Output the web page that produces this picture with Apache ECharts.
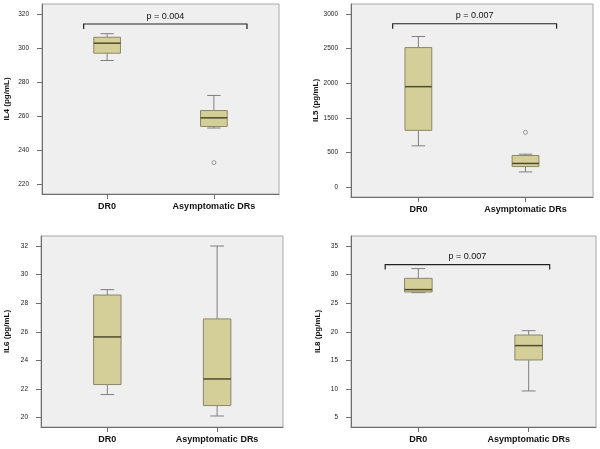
<!DOCTYPE html>
<html>
<head>
<meta charset="utf-8">
<script src="https://cdn.jsdelivr.net/npm/echarts@6/dist/echarts.min.js"></script>
<style>html,body{margin:0;padding:0;background:#fff}#c{width:600px;height:449px}</style>
</head>
<body>
<div id="c"></div>
<script>
// ---- data ----
const categories = ['DR0', 'Asymptomatic DRs'];

// [min, Q1, median, Q3, max] per category
const il4DR0 = [293, 297.3, 303.2, 306.7, 308.8];
const il4Asym = [253.2, 254.1, 259.2, 263.5, 272.4];
const il4Outliers = [[1, 232.8]];
const il4Ticks = [220, 240, 260, 280, 300, 320];
const il4Bracket = [-0.22, 1.31, 314.5];
const il4P = 'p = 0.004';

const il5DR0 = [714, 982, 1740, 2418, 2610];
const il5Asym = [261, 354, 408, 546, 569];
const il5Outliers = [[1, 948]];
const il5TickPos = [0, 600, 1200, 1800, 2400, 3000];
const il5TickLabels = ['0', '500', '1500', '2000', '2500', '3000'];
const il5Bracket = [-0.24, 1.29, 2831];
const il5P = 'p = 0.007';

const il6DR0 = [21.61, 22.31, 25.64, 28.57, 28.95];
const il6Asym = [20.11, 20.84, 22.70, 26.9, 32.0];
const il6Ticks = [20, 22, 24, 26, 28, 30, 32];

const il8DR0 = [26.85, 26.96, 27.38, 29.35, 31.05];
const il8Asym = [9.66, 15.08, 17.59, 19.44, 20.2];
const il8Ticks = [5, 10, 15, 20, 25, 30, 35];
const il8Bracket = [-0.30, 1.19, 31.75];
const il8P = 'p = 0.007';

const yNames = ['IL4 (pg/mL)', 'IL5 (pg/mL)', 'IL6 (pg/mL)', 'IL8 (pg/mL)'];

// ---- layout / style ----
const FONT = '"Liberation Sans", Arial, sans-serif';
const grids = [
  {left: 42, top: 4, width: 237, height: 190},
  {left: 351, top: 4, width: 242, height: 193},
  {left: 41, top: 236, width: 242, height: 191},
  {left: 351, top: 236, width: 245, height: 191}
];
const yExt = [[214.3, 326.3], [-174, 3174], [19.34, 32.7], [3.36, 36.75]];
const xExt = [[-0.61, 1.61], [-0.629, 1.63], [-0.604, 1.60], [-0.61, 1.61]];
const nameGaps = [31, 31, 30, 29];
const yTickVals = [il4Ticks, il5TickPos, il6Ticks, il8Ticks];

function boxRender(params, api) {
  const x = api.value(0);
  const vmin = api.value(1), q1 = api.value(2), med = api.value(3), q3 = api.value(4), vmax = api.value(5);
  const c = api.coord([x, med]);
  const hw = api.size([0.25, 0])[0] / 2;
  const cw = hw / 2;
  const yMin = api.coord([x, vmin])[1], yQ1 = api.coord([x, q1])[1];
  const yQ3 = api.coord([x, q3])[1], yMax = api.coord([x, vmax])[1];
  const cx = c[0];
  const wStyle = {stroke: '#7f7f7f', lineWidth: 1};
  return {
    type: 'group',
    children: [
      {type: 'line', shape: {x1: cx, y1: yQ3, x2: cx, y2: yMax}, style: wStyle},
      {type: 'line', shape: {x1: cx, y1: yQ1, x2: cx, y2: yMin}, style: wStyle},
      {type: 'line', shape: {x1: cx - cw, y1: yMax, x2: cx + cw, y2: yMax}, style: wStyle},
      {type: 'line', shape: {x1: cx - cw, y1: yMin, x2: cx + cw, y2: yMin}, style: wStyle},
      {type: 'rect', shape: {x: cx - hw, y: yQ3, width: 2 * hw, height: yQ1 - yQ3},
        style: {fill: '#d4cf98', stroke: '#8c8766', lineWidth: 1}},
      {type: 'line', shape: {x1: cx - hw, y1: c[1], x2: cx + hw, y2: c[1]},
        style: {stroke: '#4f4a2e', lineWidth: 1.5}}
    ]
  };
}

function bracketRender(texts) {
  return function (params, api) {
    const a = api.coord([api.value(0), api.value(2)]);
    const b = api.coord([api.value(1), api.value(2)]);
    const drop = 5;
    return {
      type: 'group',
      children: [
        {type: 'polyline', shape: {points: [[a[0], a[1] + drop], [a[0], a[1]], [b[0], b[1]], [b[0], b[1] + drop]]},
          style: {stroke: '#222', lineWidth: 1.2, fill: null}},
        {type: 'text', x: (a[0] + b[0]) / 2, y: a[1] - 8,
          style: {text: texts[params.dataIndex], fill: '#111', font: '9px ' + FONT, align: 'center', verticalAlign: 'middle'}}
      ]
    };
  };
}

function toRows(dr0, asym) {
  return [[0].concat(dr0), [1].concat(asym)];
}

const boxData = [toRows(il4DR0, il4Asym), toRows(il5DR0, il5Asym), toRows(il6DR0, il6Asym), toRows(il8DR0, il8Asym)];
const outliers = [il4Outliers, il5Outliers, [], []];
const brackets = [[il4Bracket, il4P], [il5Bracket, il5P], null, [il8Bracket, il8P]];

const option = {
  animation: false,
  grid: grids.map(g => Object.assign({show: true, backgroundColor: '#efefef', borderColor: '#a8a8a8', borderWidth: 1}, g)),
  xAxis: grids.map((g, i) => ({
    type: 'value', gridIndex: i, min: xExt[i][0], max: xExt[i][1],
    splitLine: {show: false},
    axisLine: {show: true, onZero: false, lineStyle: {color: '#6e6e6e', width: 1}},
    axisTick: {show: true, customValues: [0, 1], length: 5, lineStyle: {color: '#6e6e6e'}},
    axisLabel: {customValues: [0, 1], formatter: v => categories[Math.round(v)], margin: 8,
      fontFamily: FONT, fontSize: 9, fontWeight: 'bold', color: '#111'}
  })),
  yAxis: grids.map((g, i) => ({
    type: 'value', gridIndex: i, min: yExt[i][0], max: yExt[i][1],
    name: yNames[i], nameLocation: 'middle', nameGap: nameGaps[i],
    nameTextStyle: {fontFamily: FONT, fontSize: 8, fontWeight: 'bold', color: '#111'},
    splitLine: {show: false},
    axisLine: {show: true, onZero: false, lineStyle: {color: '#6e6e6e', width: 1}},
    axisTick: {show: true, customValues: yTickVals[i], length: 5, lineStyle: {color: '#6e6e6e'}},
    axisLabel: {customValues: yTickVals[i], margin: 13, fontFamily: FONT, fontSize: 6.5, color: '#222',
      formatter: i === 1 ? (v => il5TickLabels[il5TickPos.indexOf(Math.round(v))]) : (v => String(Math.round(v)))}
  })),
  series: []
};

for (let i = 0; i < 4; i++) {
  option.series.push({
    type: 'custom', xAxisIndex: i, yAxisIndex: i, renderItem: boxRender,
    data: boxData[i], encode: {x: 0, y: [1, 2, 3, 4, 5]}, silent: true
  });
  if (outliers[i].length) {
    option.series.push({
      type: 'scatter', xAxisIndex: i, yAxisIndex: i, data: outliers[i],
      symbol: 'circle', symbolSize: 4, itemStyle: {color: '#f4f4f4', borderColor: '#666', borderWidth: 0.8}, silent: true
    });
  }
  if (brackets[i]) {
    option.series.push({
      type: 'custom', xAxisIndex: i, yAxisIndex: i, renderItem: bracketRender([brackets[i][1]]),
      data: [brackets[i][0]], encode: {x: [0, 1], y: 2}, silent: true, clip: false
    });
  }
}

const chart = echarts.init(document.getElementById('c'), null, {renderer: 'canvas'});
chart.setOption(option);
</script>
</body>
</html>
